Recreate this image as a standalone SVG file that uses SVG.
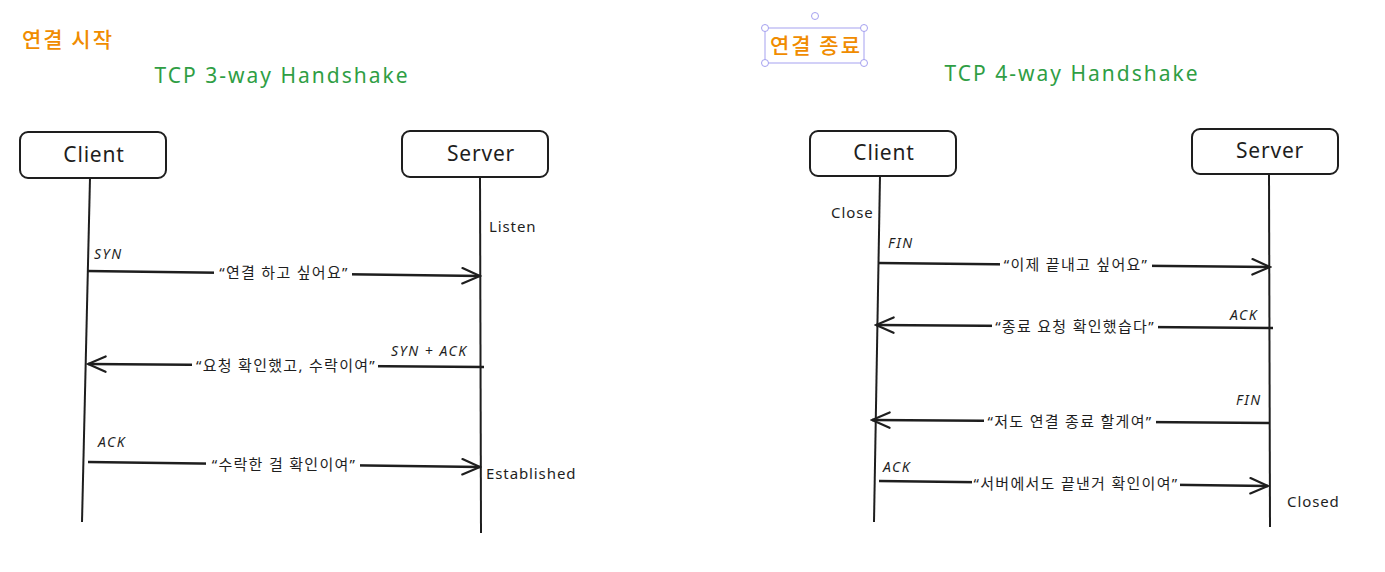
<svg xmlns="http://www.w3.org/2000/svg" width="1385" height="572" viewBox="0 0 1385 572">
<style>
.bg{fill:#ffffff}
.box{fill:#ffffff;stroke:#1e1e1e;stroke-width:2}
.life{stroke:#1e1e1e;stroke-width:2;fill:none}
.arr{stroke:#1e1e1e;stroke-width:2.5;fill:none;marker-end:url(#ah)}
.node{font-family:"Noto Sans","Noto Sans CJK KR",sans-serif;font-size:21px;fill:#1e1e1e;text-anchor:middle;letter-spacing:0.8px}
.lbl{font-family:"Noto Sans","Noto Sans CJK KR",sans-serif;font-size:15px;fill:#1e1e1e;text-anchor:middle;letter-spacing:1.3px}
.lblbg{fill:#ffffff}
.tag{font-family:"Noto Sans","Noto Sans CJK KR",sans-serif;font-size:14px;fill:#1e1e1e;font-style:italic;letter-spacing:1.5px}
.state{font-family:"Noto Sans","Noto Sans CJK KR",sans-serif;font-size:15px;fill:#1e1e1e;letter-spacing:0.9px}
.title{font-family:"Noto Sans","Noto Sans CJK KR",sans-serif;font-size:21px;fill:#2f9e44;text-anchor:middle;letter-spacing:2px}
.head{font-family:"Noto Sans CJK KR",sans-serif;font-size:21px;fill:#f08c00;font-weight:500;letter-spacing:2px}
.sel{fill:none;stroke:#a5a1f0;stroke-width:1}
.hdl{fill:#ffffff;stroke:#a5a1f0;stroke-width:1}
</style>
<defs>
<marker id="ah" viewBox="0 0 20 20" refX="18" refY="10" markerWidth="22" markerHeight="22" markerUnits="userSpaceOnUse" orient="auto">
<path d="M2 3 L18 10 L2 17" fill="none" stroke="#1e1e1e" stroke-width="2" stroke-linecap="round"/>
</marker>
</defs>
<rect class="bg" x="0" y="0" width="1385" height="572"/>

<g id="heading-left"><text class="head" x="22" y="47">연결 시작</text></g>
<g id="title-left"><text class="title" x="282" y="83">TCP 3-way Handshake</text></g>

<g id="heading-right">
<rect class="sel" x="765" y="28" width="99" height="35"/>
<circle class="hdl" cx="815" cy="16" r="3.5"/>
<circle class="hdl" cx="765" cy="28" r="3.5"/>
<circle class="hdl" cx="864" cy="28" r="3.5"/>
<circle class="hdl" cx="765" cy="63" r="3.5"/>
<circle class="hdl" cx="864" cy="63" r="3.5"/>
<text class="head" x="770" y="53">연결 종료</text>
</g>
<g id="title-right"><text class="title" x="1072" y="81">TCP 4-way Handshake</text></g>

<g id="client-left"><rect class="box" x="20" y="132" width="146" height="46" rx="8"/><text class="node" x="94" y="162">Client</text></g>
<g id="server-left"><rect class="box" x="402" y="131" width="146" height="46" rx="8"/><text class="node" x="481" y="161">Server</text></g>
<g id="client-right"><rect class="box" x="810" y="131" width="146" height="45" rx="8"/><text class="node" x="884" y="160">Client</text></g>
<g id="server-right"><rect class="box" x="1192" y="129" width="146" height="45" rx="8"/><text class="node" x="1270" y="158">Server</text></g>

<g id="connectors">
<path class="life" d="M90 178 L82 522"/>
<path class="life" d="M480 177 L481 533"/>
<path class="life" d="M880 176 L874 522"/>
<path class="life" d="M1269 174 L1270 527"/>

<path class="arr" d="M87 271 L480 276"/>
<path class="arr" d="M484 367 L88 364"/>
<path class="arr" d="M88 462 L480 467"/>

<path class="arr" d="M878 263 L1270 267"/>
<path class="arr" d="M1273 328 L876 325"/>
<path class="arr" d="M1269 423 L872 420"/>
<path class="arr" d="M879 481 L1268 486"/>
</g>

<g id="labels">
<rect class="lblbg" x="214" y="262" width="138" height="20"/>
<text class="lbl" x="284" y="278">“연결 하고 싶어요”</text>
<rect class="lblbg" x="192" y="355" width="186" height="20"/>
<text class="lbl" x="286" y="371">“요청 확인했고, 수락이여”</text>
<rect class="lblbg" x="206" y="454" width="154" height="20"/>
<text class="lbl" x="284" y="470">“수락한 걸 확인이여”</text>

<rect class="lblbg" x="1000" y="255" width="152" height="20"/>
<text class="lbl" x="1076" y="270">“이제 끝내고 싶어요”</text>
<rect class="lblbg" x="992" y="316" width="166" height="20"/>
<text class="lbl" x="1075" y="332">“종료 요청 확인했습다”</text>
<rect class="lblbg" x="984" y="411" width="172" height="20"/>
<text class="lbl" x="1070" y="427">“저도 연결 종료 할게여”</text>
<rect class="lblbg" x="972" y="473" width="208" height="20"/>
<text class="lbl" x="1076" y="489">“서버에서도 끝낸거 확인이여”</text>

<text class="tag" x="94" y="259">SYN</text>
<text class="tag" x="391" y="356">SYN + ACK</text>
<text class="tag" x="98" y="447">ACK</text>
<text class="tag" x="888" y="248">FIN</text>
<text class="tag" x="1230" y="320">ACK</text>
<text class="tag" x="1236" y="405">FIN</text>
<text class="tag" x="883" y="472">ACK</text>

<text class="state" x="489" y="232">Listen</text>
<text class="state" x="486" y="479">Established</text>
<text class="state" x="831" y="218">Close</text>
<text class="state" x="1287" y="507">Closed</text>
</g>
</svg>
